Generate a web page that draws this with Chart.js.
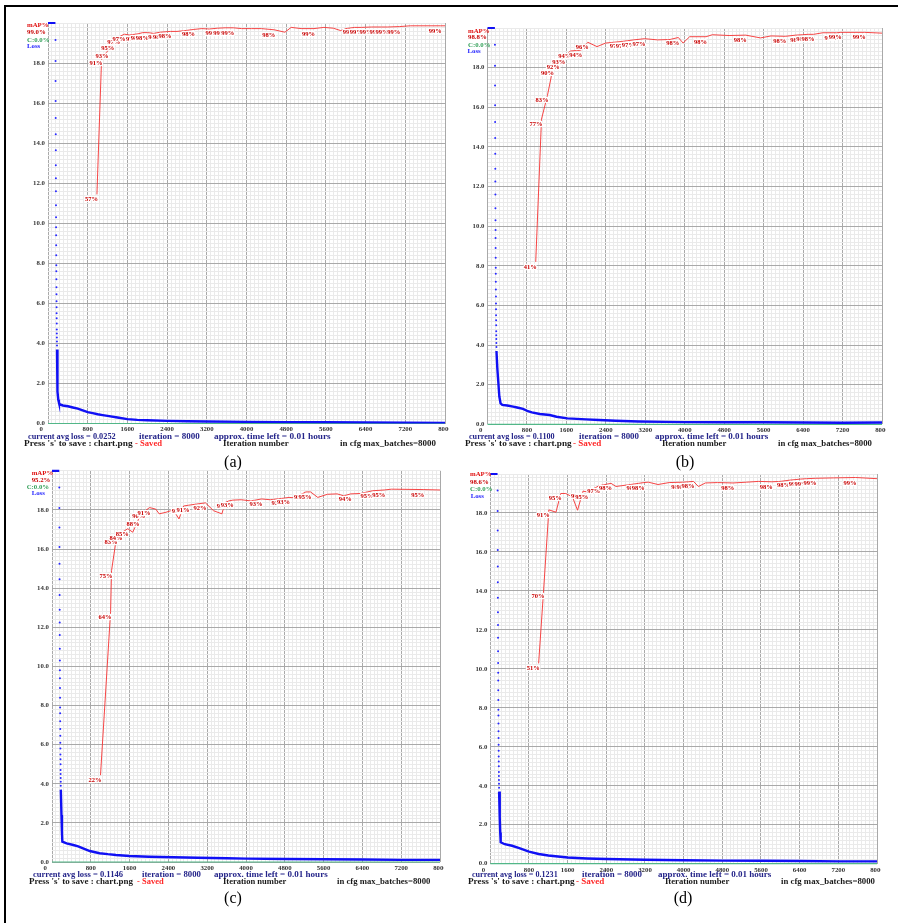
<!DOCTYPE html>
<html>
<head>
<meta charset="utf-8">
<script src="https://cdn.jsdelivr.net/npm/chart.js@4.4.0/dist/chart.umd.min.js"></script>
<style>
  html, body { margin: 0; padding: 0; background: #fff; }
  #page { position: relative; width: 898px; height: 923px; overflow: hidden; }
  #frame { position: absolute; left: 4px; top: 5px; width: 900px; height: 930px;
           border-top: 2.5px solid #000; border-left: 2.5px solid #000; }
  canvas { position: absolute; }
  .t { position: absolute; white-space: pre; font-family: "Liberation Serif", "DejaVu Serif", serif;
       font-weight: bold; transform-origin: 0 50%; }
  .cap { position: absolute; width: 40px; text-align: center; font-family: "Liberation Serif", serif;
         font-size: 16px; line-height: 16px; color: #000; }
</style>
</head>
<body>
<div id="page"><div id="frame"></div></div>
<script>
// loss points of the burn-in (drawn as separate dots), same look in all four runs
const burnIter = [151,152,153,154,155,156,157,158,159,160,161,162,163,164,165,166,167,168,169,170,171,172,173,174,175,176,177,178,179,180,181];
const burnLoss = [19.15,18.1,17.1,16.1,15.25,14.45,13.65,12.9,12.25,11.6,10.9,10.3,9.8,9.4,8.9,8.4,7.9,7.6,7.2,6.8,6.45,6.1,5.8,5.5,5.25,5.0,4.7,4.5,4.3,4.1,3.9];
// loss above the top of the chart, drawn on the upper edge
const clipIter = [0, 150];
const clipLoss = [20, 20];
// accuracy of class C (always 0 %)
const cIter = [0, 8000];
const cAcc = [0, 0];

// (a)
const lossIterA = [182,186,195,206,220,240,300,400,500,600,700,800,900,1000,1100,1200,1400,1600,1800,2000,2400,2800,3200,4000,4800,5600,6400,7200,8000];
const lossA = [3.7,2.3,1.6,1.2,1.05,0.95,0.9,0.86,0.8,0.74,0.66,0.57,0.52,0.46,0.42,0.38,0.3,0.22,0.18,0.16,0.13,0.11,0.1,0.08,0.07,0.06,0.05,0.04,0.03];
const mapIterA = [986,1080,1200,1314,1434,1540,1640,1814,1910,2010,2130,2260,2360,2470,2600,2760,2940,3100,3250,3414,3570,3734,3900,4100,4300,4560,4774,4900,5100,5360,5560,5750,5900,6000,6180,6320,6520,6720,6840,7080,7300,7914,8000];
const mapA = [57.2,91.2,93.0,95.0,96.6,97.2,97.0,97.3,97.6,97.6,97.4,97.7,97.8,97.9,97.9,98.1,98.4,98.6,98.5,98.7,98.8,98.8,98.6,98.6,98.6,98.3,97.7,98.9,98.6,98.6,98.9,98.7,98.1,98.6,98.9,98.9,99.0,99.0,99.0,99.1,99.3,99.3,99.3];
const tagA = [1,1,1,1,1,1,0,1,1,1, 0,1,1,1,0,0,1,0,0,1, 1,1,0,0,0,1,0,0,0,1, 0,0,0,0,1,1,1,1,1,1, 0,1,0];

// (b)
const lossIterB = [182,200,217,240,265,300,400,520,600,720,820,900,1060,1260,1400,1620,2000,2260,2600,3060,3600,4000,4800,5600,6400,7200,8000];
const lossB = [3.7,2.8,2.2,1.4,1.06,0.98,0.95,0.89,0.85,0.78,0.66,0.6,0.52,0.47,0.38,0.3,0.25,0.22,0.18,0.14,0.12,0.11,0.1,0.1,0.09,0.08,0.09];
const mapIterB = [978,1095,1216,1330,1443,1558,1680,1900,2034,2221,2396,2724,2844,2965,3186,3450,3700,3870,3966,4100,4432,4560,4900,5236,5537,5750,6040,6250,6382,6502,6613,6800,7079,7166,7648,8000];
const mapB = [41,77,83,90,91.5,92.6,94.2,94.4,96.4,95.3,96.2,96.6,96.8,97.0,97.3,97.0,97.1,97.6,96.2,97.8,97.8,98.3,98.1,98.2,97.5,98.0,97.9,98.2,98.3,98.4,98.4,98.8,98.8,98.9,98.9,98.7];
const tagB = [1,1,1,1,1,1,1,1,1,0, 0,1,1,1,1,0,0,1,0,0, 1,0,0,1,0,0,1,0,1,1, 1,0,1,1,1,0];

// (c)
const lossIterC = [182,195,205,213,300,440,540,640,780,980,1150,1320,1600,2000,2500,3000,3600,4000,4800,5600,6400,7200,8000];
const lossC = [3.7,2.4,1.5,1.04,0.95,0.87,0.8,0.7,0.56,0.45,0.4,0.36,0.31,0.27,0.24,0.22,0.19,0.17,0.15,0.14,0.13,0.11,0.11];
const mapIterC = [1000,1208,1228,1330,1433,1562,1664,1786,1903,2011,2140,2210,2350,2500,2618,2714,2817,2980,3164,3330,3503,3570,3646,3728,3900,4100,4321,4500,4771,4887,5000,5235,5331,5480,5680,5880,6016,6160,6360,6610,6850,7000,7653,8000];
const mapC = [22.2,64,74.5,83,84.2,85.2,84.3,87.6,89.6,90.6, 90.2,89.0,89.4,90.0,87.7,91.0,91.2,91.5,91.8,89.8, 89.0,91.9,92.3,92.5,92.6,92.3,92.8,92.6,93.0,93.2, 93.1,94.6,94.6,93.2,94.0,94.1,93.6,94.1,94.2,94.9, 95.1,95.3,95.2,95.1];
const tagC = [1,1,1,1,1,1,0,1,1,1, 0,0,0,0,0,1,1,0,1,0, 0,0,1,1,0,0,1,0,1,1, 0,1,1,0,0,0,0,1,0,1, 1,0,1,0];

// (d)
const lossIterD = [182,195,205,215,300,450,600,800,1000,1200,1600,2000,2400,3200,4000,4800,5600,6400,7200,8000];
const lossD = [3.7,2.4,1.6,1.1,1.0,0.92,0.8,0.62,0.5,0.42,0.32,0.27,0.24,0.2,0.18,0.16,0.15,0.14,0.12,0.12];
const mapIterD = [1000,1102,1211,1359,1458,1560,1700,1805,1917,2006,2252,2498,2600,2900,3067,3176,3270,3470,3700,3991,4100,4203,4305,4450,4700,5024,5300,5550,5824,6000,6180,6420,6543,6728,7100,7555,8000];
const mapD = [51.4,70,90.8,90.2,95.0,95.0,94.1,90.7,95.6,95.4, 97.0,97.6,96.8,97.3,97.6,97.8,97.9,97.3,97.8,97.9, 98.0,98.1,96.8,97.7,97.8,97.7,97.9,98.1,98.0,98.1, 98.4,98.7,98.8,98.9,99.0,99.1,98.8];
const tagD = [1,1,1,0,1,0,0,0,1,1, 1,1,0,0,1,1,0,0,0,1, 1,1,0,0,0,1,0,0,1,0, 1,1,1,1,0,1,0];

// texts
const mapNow = ['99.0%', '98.8%', '95.2%', '98.6%'];
const avgLoss = ['0.0252', '0.1100', '0.1146', '0.1231'];
const captions = ['(a)', '(b)', '(c)', '(d)'];
const maxBatches = 8000;

const series = [
  { lossIter: lossIterA, loss: lossA, mapIter: mapIterA, map: mapA, tag: tagA },
  { lossIter: lossIterB, loss: lossB, mapIter: mapIterB, map: mapB, tag: tagB },
  { lossIter: lossIterC, loss: lossC, mapIter: mapIterC, map: mapC, tag: tagC },
  { lossIter: lossIterD, loss: lossD, mapIter: mapIterD, map: mapD, tag: tagD }
];

// where each panel sits on the page
const layout = [
  { cx: 8, cy: 18, cw: 441, ch: 416, L: 48, R: 448, T: 23, B: 423.5,
    legX: [27, 27, 27, 27], legY: [25.7, 33.3, 40.7, 46.7],
    y1: 437.3, y2: 444.3, tx: [28.3, 139.3, 214.3, 24.3, 135, 222.7, 340], tw: [87.7, 60.7, 116.7, 108.7, 27, 65.6, 96],
    capX: 233, capY: 463.3 },
  { cx: 452, cy: 22, cw: 434, ch: 412, L: 487.5, R: 885.5, T: 28, B: 424.3,
    legX: [468, 468, 468, 467.5], legY: [32.3, 38.3, 45.7, 52.3],
    y1: 437.3, y2: 444.3, tx: [469.3, 579.3, 655, 465, 573.3, 661.7, 778.3], tw: [85.7, 60, 113.3, 106.7, 28.4, 64.3, 94],
    capX: 685, capY: 463.3 },
  { cx: 8, cy: 464, cw: 436, ch: 407, L: 52, R: 443.3, T: 470.8, B: 862,
    legX: [31.7, 31.7, 26.7, 31.7], legY: [474.3, 480.7, 488, 494.3],
    y1: 875, y2: 882.3, tx: [32.7, 141.7, 214.3, 29.3, 136.7, 222.7, 337.3], tw: [90, 59, 113.7, 104, 26.6, 63.3, 93.4],
    capX: 233, capY: 900 },
  { cx: 452, cy: 466, cw: 429, ch: 407, L: 490.3, R: 880, T: 474, B: 863.7,
    legX: [470, 470, 470, 470.7], legY: [475, 482.5, 490, 496.7],
    y1: 875, y2: 882.3, tx: [472.3, 582.3, 658, 468, 576.3, 664.7, 781.3], tw: [85.7, 60, 113.3, 106.7, 28.4, 64.3, 94],
    capX: 683, capY: 900 }
];

const page = document.getElementById('page');
const FONT = '"Liberation Serif", "DejaVu Serif", serif';
const toXY = (xs, ys) => xs.map((x, i) => ({ x: x, y: ys[i] }));
const isStep = (v, step) => Math.abs(v / step - Math.round(v / step)) < 1e-6;

const fitList = [];
function addText(txt, x, yc, size, color, w) {
  const s = document.createElement('span');
  s.className = 't';
  s.textContent = txt;
  s.style.left = x + 'px';
  s.style.top = (yc - size * 0.58) + 'px';
  s.style.fontSize = size + 'px';
  s.style.lineHeight = size + 'px';
  s.style.color = color;
  page.appendChild(s);
  if (w) fitList.push([s, w]);
  return s;
}

// mAP labels, drawn like darknet: white halo then red text, left of and below the point
function mapTags(d) {
  return {
    id: 'mapTags',
    afterDatasetsDraw(chart) {
      const meta = chart.getDatasetMeta(3);
      const ctx = chart.ctx;
      ctx.save();
      ctx.font = 'bold 6.5px ' + FONT;
      ctx.textBaseline = 'alphabetic';
      ctx.lineJoin = 'round';
      ctx.lineWidth = 2.5;
      ctx.strokeStyle = '#ffffff';
      ctx.fillStyle = '#c80000';
      meta.data.forEach((pt, i) => {
        if (!d.tag[i]) return;
        const t = Math.round(d.map[i]) + '%';
        ctx.strokeText(t, pt.x - 12, pt.y + 7);
        ctx.fillText(t, pt.x - 12, pt.y + 7);
      });
      ctx.restore();
    }
  };
}

function makePanel(k) {
  const d = series[k];
  const g = layout[k];
  const cv = document.createElement('canvas');
  cv.width = g.cw; cv.height = g.ch;
  cv.style.left = g.cx + 'px'; cv.style.top = g.cy + 'px';
  cv.style.width = g.cw + 'px'; cv.style.height = g.ch + 'px';
  page.appendChild(cv);

  const tickFont = { family: FONT, size: 6.8, weight: 'bold' };
  new Chart(cv, {
    type: 'scatter',
    data: {
      datasets: [
        { data: toXY(d.lossIter, d.loss), showLine: true, borderColor: '#1010f4', borderWidth: 2.4,
          pointRadius: 0, yAxisID: 'y' },
        { data: toXY(burnIter, burnLoss), showLine: false, pointRadius: 1, pointBorderWidth: 0,
          pointBackgroundColor: '#2828ff', yAxisID: 'y' },
        { data: toXY(clipIter, clipLoss), showLine: true, borderColor: '#1010f4', borderWidth: 2.2,
          pointRadius: 0, clip: 3, yAxisID: 'y' },
        { data: toXY(d.mapIter, d.map), showLine: true, borderColor: 'rgba(245,50,50,0.9)', borderWidth: 1,
          pointRadius: 0, yAxisID: 'yMap' },
        { data: toXY(cIter, cAcc), showLine: true, borderColor: '#52b788', borderWidth: 1.2,
          pointRadius: 0, clip: 2, yAxisID: 'yMap' }
      ]
    },
    options: {
      responsive: false,
      animation: false,
      events: [],
      layout: { padding: { top: g.T - g.cy, right: g.cx + g.cw - g.R, left: 0, bottom: 0 } },
      plugins: { legend: { display: false }, tooltip: { enabled: false } },
      scales: {
        x: {
          type: 'linear', min: 0, max: maxBatches,
          border: { display: false },
          grid: { drawTicks: false, lineWidth: 1,
                  color: c => isStep(c.tick.value, 800) ? '#a9a9a9' : '#eaeaea' },
          ticks: { stepSize: 80, maxTicksLimit: 500, autoSkip: false, maxRotation: 0, minRotation: 0,
                   padding: 2, font: tickFont, color: '#333',
                   callback: v => {
                     if (!isStep(v, 800)) return '';
                     return v === 0 ? '0        ' : String(Math.round(v));
                   } },
          afterFit: s => { s.height = g.cy + g.ch - g.B; s.paddingLeft = 0; s.paddingRight = 0; }
        },
        y: {
          type: 'linear', min: 0, max: 20,
          border: { display: false },
          grid: { drawTicks: false, lineWidth: 1,
                  color: c => (isStep(c.tick.value, 2) && c.tick.value < 19.9) ? '#a9a9a9' : '#eaeaea' },
          ticks: { stepSize: 0.2, maxTicksLimit: 500, autoSkip: false, padding: 3, font: tickFont, color: '#333',
                   callback: v => (isStep(v, 2) && v < 19.9) ? v.toFixed(1) : '' },
          afterFit: s => { s.width = g.L - g.cx; s.paddingTop = 0; s.paddingBottom = 0; }
        },
        yMap: { type: 'linear', min: 0, max: 100, display: false }
      }
    },
    plugins: [mapTags(d)]
  });

  // legend in the upper-left corner
  addText('mAP%', g.legX[0], g.legY[0], 6.8, '#e01010');
  addText(mapNow[k], g.legX[1], g.legY[1], 6.8, '#c80000');
  addText('C:0.0%', g.legX[2], g.legY[2], 6.8, '#2e9e55');
  addText('Loss', g.legX[3], g.legY[3], 6.8, '#1a1aff');

  // status lines under the chart
  addText('current avg loss = ' + avgLoss[k], g.tx[0], g.y1, 8.5, '#25258a', g.tw[0]);
  addText('iteration = ' + maxBatches, g.tx[1], g.y1, 8.5, '#25258a', g.tw[1]);
  addText('approx. time left = 0.01 hours', g.tx[2], g.y1, 8.5, '#25258a', g.tw[2]);
  addText("Press 's' to save : chart.png", g.tx[3], g.y2, 8.5, '#1a1a1a', g.tw[3]);
  addText('- Saved', g.tx[4], g.y2, 8.5, '#ff2a2a', g.tw[4]);
  addText('Iteration number', g.tx[5], g.y2, 8.5, '#1a1a1a', g.tw[5]);
  addText('in cfg max_batches=' + maxBatches, g.tx[6], g.y2, 8.5, '#1a1a1a', g.tw[6]);

  const cap = document.createElement('div');
  cap.className = 'cap';
  cap.textContent = captions[k];
  cap.style.left = (g.capX - 20) + 'px';
  cap.style.top = (g.capY - 9.6) + 'px';
  page.appendChild(cap);
}

for (let k = 0; k < 4; k++) makePanel(k);

// squeeze each status text to the width it has in the picture
fitList.forEach(([s, w]) => {
  const real = s.getBoundingClientRect().width;
  if (real > 0) s.style.transform = 'scaleX(' + (w / real).toFixed(3) + ')';
});
</script>
</body>
</html>
